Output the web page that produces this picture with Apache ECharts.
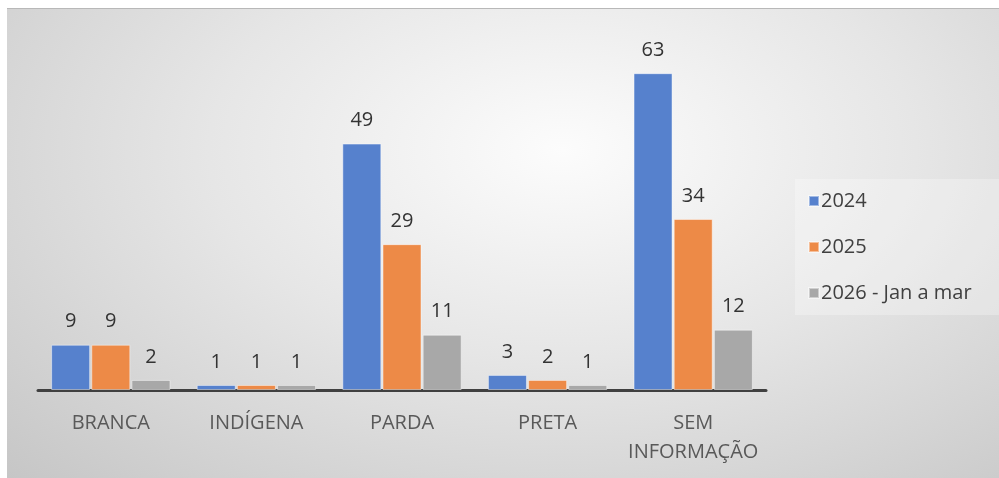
<!DOCTYPE html>
<html>
<head>
<meta charset="utf-8">
<script src="https://cdn.jsdelivr.net/npm/echarts@6/dist/echarts.min.js"></script>
<style>
html,body{margin:0;padding:0;background:#ffffff;width:999px;height:478px;overflow:hidden;}
#chart{position:absolute;left:7px;top:8px;width:992px;height:470px;
background:radial-gradient(ellipse at 56% 30%, #fcfcfc 0%, #e6e6e6 45%, #c6c6c6 100%);
border-top:1px solid #b8b8b8;box-sizing:border-box;}
</style>
</head>
<body>
<div id="chart"></div>
<script>
var categories = ['BRANCA', 'INDÍGENA', 'PARDA', 'PRETA', 'SEM\nINFORMAÇÃO'];
var seriesNames = ['2024', '2025', '2026 - Jan a mar'];
var values2024 = [9, 1, 49, 3, 63];
var values2025 = [9, 1, 29, 2, 34];
var values2026 = [2, 1, 11, 1, 12];
var colors = ['#5681cd', '#ed8a47', '#a8a8a8'];

var FONT = '"Open Sans", "Noto Sans", sans-serif';
var chart = echarts.init(document.getElementById('chart'), null, {renderer: 'canvas'});

function mkSeries(name, data, color) {
  return {
    name: name,
    type: 'bar',
    data: data,
    barWidth: 39,
    barGap: '3%',
    itemStyle: {color: color, borderColor: 'rgba(255,255,255,0.45)', borderWidth: 1},
    label: {
      show: true, position: 'top', distance: 13,
      color: '#333333', fontSize: 20, fontFamily: FONT
    },
    emphasis: {disabled: true},
    animation: false
  };
}

chart.setOption({
  animation: false,
  backgroundColor: 'transparent',
  color: colors,
  grid: {left: 31, right: 233, top: 29, bottom: 88, containLabel: false},
  legend: {
    orient: 'vertical',
    left: 788, top: 170,
    padding: [12, 50, 12, 13],
    backgroundColor: 'rgba(255,255,255,0.28)',
    itemWidth: 10, itemHeight: 10, itemGap: 26,
    icon: 'rect',
    textStyle: {color: '#404040', fontSize: 20, fontFamily: FONT, lineHeight: 20, padding: [0, 0, 0, -3]},
    data: seriesNames
  },
  xAxis: {
    type: 'category',
    data: categories,
    axisLine: {show: true, lineStyle: {color: '#404040', width: 3}},
    axisTick: {show: false},
    axisLabel: {color: '#595959', fontSize: 20, fontFamily: FONT, margin: 19, lineHeight: 29, interval: 0}
  },
  yAxis: {
    type: 'value', min: 0, max: 70,
    show: false,
    splitLine: {show: false}
  },
  series: [
    mkSeries(seriesNames[0], values2024, colors[0]),
    mkSeries(seriesNames[1], values2025, colors[1]),
    mkSeries(seriesNames[2], values2026, colors[2])
  ]
});
</script>
</body>
</html>
